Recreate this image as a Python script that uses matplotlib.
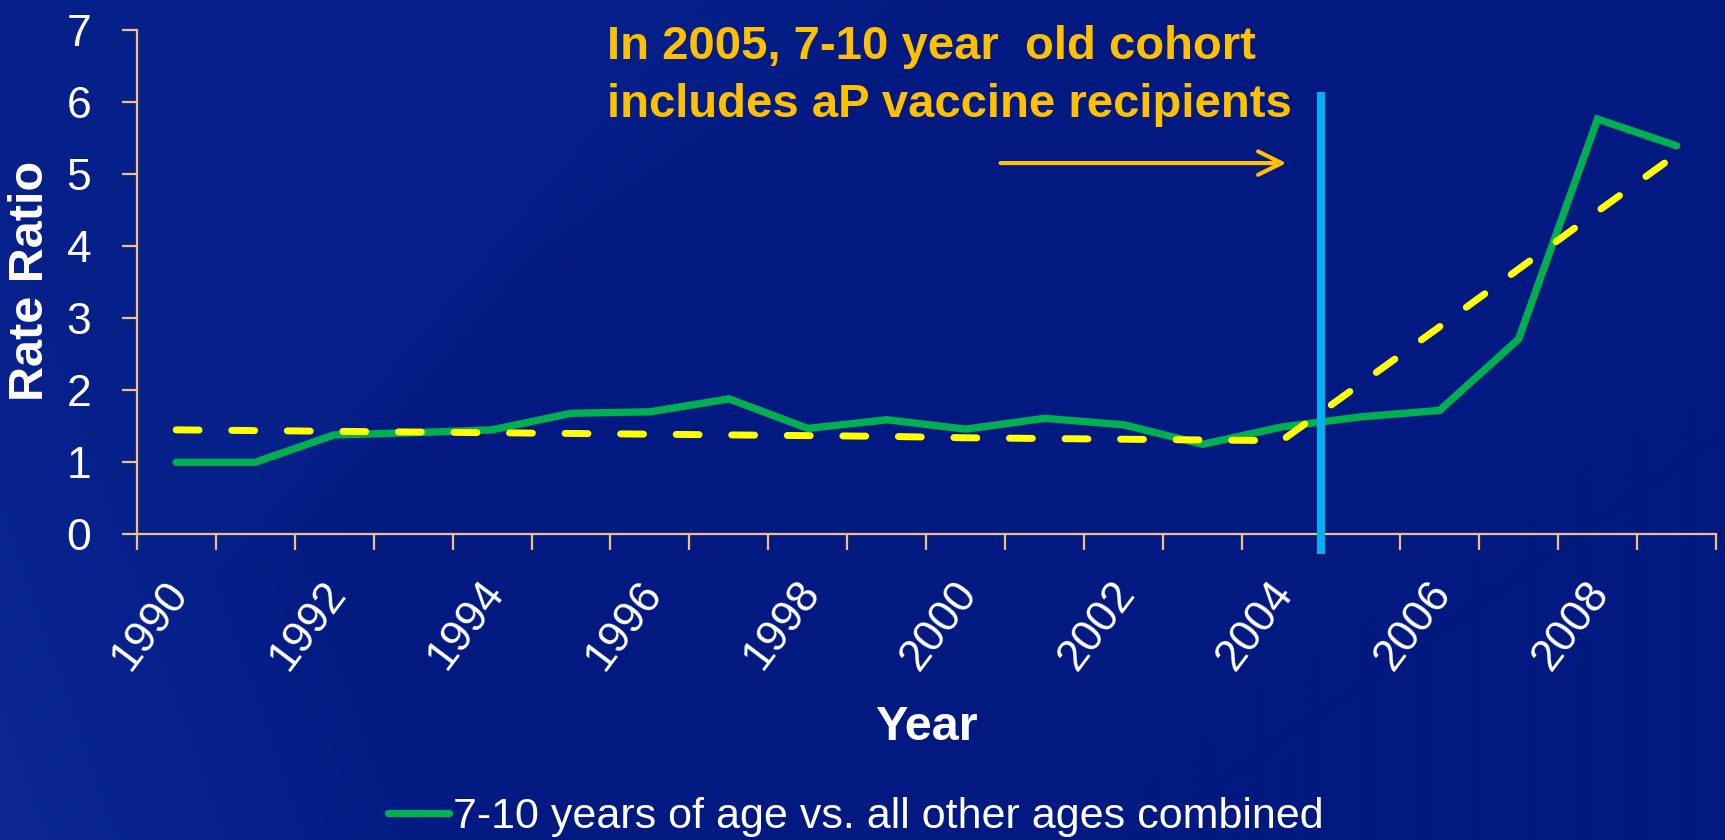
import numpy as np
import matplotlib
matplotlib.use("Agg")
import matplotlib.pyplot as plt
from matplotlib.lines import Line2D

# ---------------- data ----------------
years = list(range(1990, 2010))
green_vals = [1.00, 1.00, 1.38, 1.41, 1.45, 1.68, 1.70, 1.88, 1.47, 1.59,
              1.46, 1.61, 1.52, 1.25, 1.49, 1.63, 1.72, 2.71, 5.76, 5.39]
yellow_vals = [1.45, 1.44, 1.43, 1.42, 1.41, 1.40, 1.39, 1.38, 1.37, 1.36,
               1.34, 1.33, 1.32, 1.31, 1.30, 2.09, 2.88, 3.68, 4.48, 5.27]
xtick_labels = ["1990", "1992", "1994", "1996", "1998",
                "2000", "2002", "2004", "2006", "2008"]
yticks = [0, 1, 2, 3, 4, 5, 6, 7]
marker_year = 2005
marker_range = (-0.27, 6.14)
arrow_from = (10.44, 5.15)
arrow_to = (14.06, 5.15)
legend_label = "7-10 years of age vs. all other ages combined"
note_lines = ["In 2005, 7-10 year  old cohort", "includes aP vaccine recipients"]

# ---------------- style ----------------
FONT = "Liberation Sans"
plt.rcParams["font.family"] = [FONT, "DejaVu Sans"]
AXC = "#F0C080"
W, H = 1725, 840
fig = plt.figure(figsize=(W / 100, H / 100), dpi=100)

# background (slide gradient)
bg = fig.add_axes([0, 0, 1, 1], zorder=-10)
yy, xx = np.mgrid[0:H:2, 0:W:2].astype(float)
base = np.array([1, 25, 128]) / 255.0
light = np.array([13, 42, 152]) / 255.0
sig = lambda v: 1 / (1 + np.exp(-v))
w_top = sig((733 - 0.85 * yy - xx) / 30.0) * 0.45
w_bl = np.clip(1 - (xx + 0.35 * (H - yy)) / 500.0, 0, 1) * 0.85
w_band = sig((500 - 1.44 * (yy - 283) - xx) / 40.0) * 0.3
w = np.clip(np.maximum(np.maximum(w_top, w_bl), w_band), 0, 1)
img = base[None, None, :] * (1 - w[..., None]) + light[None, None, :] * w[..., None]
bg.imshow(img, extent=[0, W, H, 0], aspect="auto", interpolation="bilinear")
bg.set_xlim(0, W)
bg.set_ylim(H, 0)
bg.axis("off")

# main axes
x0, x1 = 136.7, 1716.0
y0, y1 = 534.4, 29.7
ax = fig.add_axes([x0 / W, 1 - y0 / H, (x1 - x0) / W, (y0 - y1) / H])
ax.set_facecolor("none")
n = len(years)
xs = np.arange(n)
ax.set_xlim(-0.5, n - 0.5)
ax.set_ylim(0, 7)

for sp in ("top", "right"):
    ax.spines[sp].set_visible(False)
for sp in ("left", "bottom"):
    ax.spines[sp].set_color(AXC)
    ax.spines[sp].set_linewidth(1.6)

ax.plot(xs, green_vals, color="#00B050", lw=5.3, solid_capstyle="round",
        solid_joinstyle="miter", zorder=3)
ax.plot(xs, yellow_vals, color="#FFFF00", lw=5.0, dashes=(3.3, 4.7),
        dash_capstyle="round", zorder=4)

mx = years.index(marker_year) - 0.5
ax.plot([mx, mx], list(marker_range), color="#00B0F0", lw=5.8,
        solid_capstyle="butt", clip_on=False, zorder=5)

ax.annotate("", xy=arrow_to, xytext=arrow_from,
            arrowprops=dict(arrowstyle="->,head_length=0.85,head_width=0.42",
                            color="#FFC000", lw=3, mutation_scale=20,
                            shrinkA=0, shrinkB=0), zorder=6)

# ticks
ax.set_yticks(yticks)
ax.set_yticklabels([str(v) for v in yticks])
ax.tick_params(axis="y", direction="out", length=10.8, width=1.6, color=AXC,
               labelcolor="white", labelsize=32, pad=22)
for lab in ax.get_yticklabels():
    lab.set_fontfamily(FONT)

ax.set_xticks(np.arange(-0.5, n, 1.0))
ax.set_xticklabels([])
ax.tick_params(axis="x", which="major", direction="out", length=11.5,
               width=1.6, color=AXC)
label_pos = [years.index(int(t)) - 0.16 for t in xtick_labels]
ax.set_xticks(label_pos, minor=True)
ax.set_xticklabels(xtick_labels, minor=True, rotation=53, ha="right",
                   va="top", rotation_mode="anchor", fontsize=32,
                   color="white", fontfamily=FONT)
ax.tick_params(axis="x", which="minor", length=0, pad=28)

# axis titles
fig.text(30.8 / W, 1 - 281 / H, "Rate Ratio", rotation=90, ha="center",
         va="center", fontsize=35, fontweight="bold", color="white")
fig.text(926 / W, 1 - 740 / H, "Year", ha="center", va="baseline",
         fontsize=35, fontweight="bold", color="white")

# annotation text
for line, base_y in zip(note_lines, (59.3, 116.7)):
    fig.text(607 / W, 1 - base_y / H, line, ha="left", va="baseline",
             fontsize=34, fontweight="bold", color="#FFC000")

# legend
handle = Line2D([], [], color="#00B050", lw=5.2, solid_capstyle="round")
leg = fig.legend([handle], [legend_label], loc="center",
                 bbox_to_anchor=(856 / W, 1 - 817 / H), frameon=False,
                 fontsize=31, handlelength=1.4, handletextpad=0.1,
                 borderpad=0, borderaxespad=0)
for t in leg.get_texts():
    t.set_color("white")

fig.savefig("out.png", dpi=100)
